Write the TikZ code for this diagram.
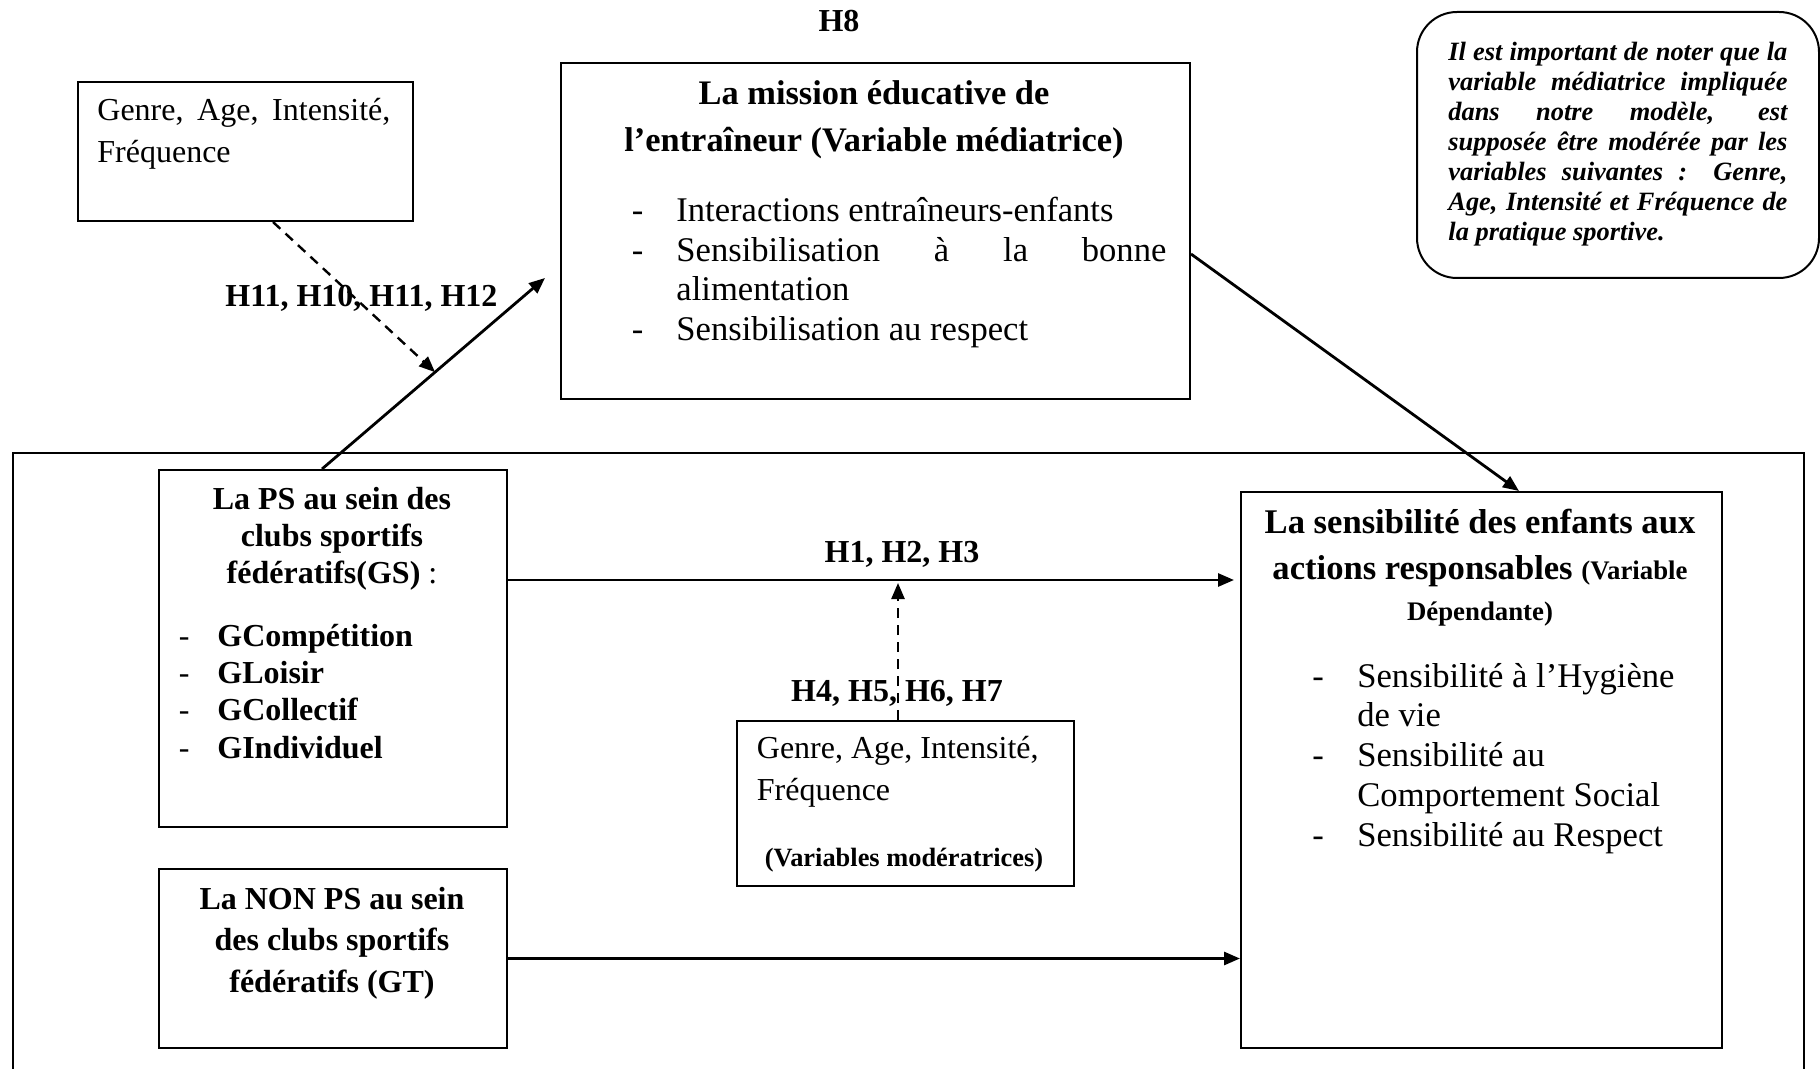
\documentclass[tikz,border=0pt]{standalone}
\usepackage{fontspec}
\setmainfont{Liberation Serif}
\usetikzlibrary{arrows.meta,calc}
\begin{document}
\begin{tikzpicture}[x=0.5pt,y=-0.5pt,
  box/.style={draw,line width=1pt,inner sep=0pt,anchor=north west},
  txt/.style={inner sep=0pt},
  conn/.style={line width=1.4pt,-{Triangle[length=8pt,width=6.5pt]}},
  dconn/.style={conn,line width=1.2pt,dash pattern=on 5pt off 3.5pt},
  hlab/.style={inner sep=0pt,font=\fontsize{16}{19}\selectfont\bfseries}]
\useasboundingbox (0,0) rectangle (1820,1069);

% boxes
\node[box,minimum width=167.5pt,minimum height=69.5pt] (g1) at (77,81) {};
\node[box,minimum width=314.5pt,minimum height=168pt] (mis) at (560,62) {};
\node[box,rounded corners=20pt,minimum width=201pt,minimum height=133pt] (note) at (1416,11) {};
\node[box,minimum width=895.5pt,minimum height=324pt] (outer) at (12,452) {};
\node[box,minimum width=174pt,minimum height=178.5pt] (ps) at (158,469) {};
\node[box,minimum width=174pt,minimum height=89.5pt] (nps) at (158,868) {};
\node[box,minimum width=240.5pt,minimum height=278pt] (sens) at (1240,491) {};
\node[box,minimum width=168.5pt,minimum height=82.5pt] (mod) at (736,720) {};

% hypothesis labels
\node[hlab,anchor=base] (h8) at (839,32) {H8};
\node[hlab,anchor=base west] (h11) at (225,307) {H11, H10, H11, H12};
\node[hlab,anchor=base] (h1) at (902,562) {H1, H2, H3};
\node[hlab,anchor=base] (h4) at (897,701) {H4, H5, H6, H7};

% genre box (top left)
\node[txt,anchor=base west,font=\fontsize{16}{21}\selectfont] (g1t) at (97,121)
  {\parbox[t]{147pt}{\makebox[146.5pt][s]{Genre, Age, Intensité,}\\Fréquence}};

% mission box
\node[txt,anchor=base,font=\fontsize{17.2}{23.5}\selectfont\bfseries] (mist) at (874,105)
  {\parbox[t]{300pt}{\centering La mission éducative de\\l’entraîneur (Variable médiatrice)}};
\node[txt,anchor=base west,font=\fontsize{17.3}{19.7}\selectfont] (misl) at (631.5,222)
  {\parbox[t]{270pt}{\makebox[22.25pt][l]{-}Interactions entraîneurs-enfants\\
   \makebox[22.25pt][l]{-}\makebox[245pt][s]{Sensibilisation à la bonne}\\
   \hspace*{22.25pt}alimentation\\
   \makebox[22.25pt][l]{-}Sensibilisation au respect}};

% note box
\node[txt,anchor=base west,font=\fontsize{13.2}{15}\selectfont\bfseries\itshape] (notet) at (1448,60.5)
  {\parbox[t]{170pt}{\makebox[169.5pt][s]{Il est important de noter que la}\\
   \makebox[169.5pt][s]{variable médiatrice impliquée}\\
   \makebox[169.5pt][s]{dans notre modèle, est}\\
   \makebox[169.5pt][s]{supposée être modérée par les}\\
   \makebox[169.5pt][s]{variables suivantes : Genre,}\\
   \makebox[169.5pt][s]{Age, Intensité et Fréquence de}\\
   la pratique sportive.}};

% PS box
\node[txt,anchor=base,font=\fontsize{16}{18.4}\selectfont\bfseries] (pst) at (332,509.5)
  {\parbox[t]{170pt}{\centering La PS au sein des\\clubs sportifs\\fédératifs(GS) {\mdseries :}}};
\node[txt,anchor=base west,font=\fontsize{16}{18.67}\selectfont\bfseries] (psl) at (178.5,646)
  {\parbox[t]{150pt}{\makebox[19.25pt][l]{\mdseries -}GCompétition\\
   \makebox[19.25pt][l]{\mdseries -}GLoisir\\
   \makebox[19.25pt][l]{\mdseries -}GCollectif\\
   \makebox[19.25pt][l]{\mdseries -}GIndividuel}};

% NON PS box
\node[txt,anchor=base,font=\fontsize{16}{20.8}\selectfont\bfseries] (npst) at (332,909)
  {\parbox[t]{170pt}{\centering La NON PS au sein\\des clubs sportifs\\fédératifs (GT)}};

% sensibilite box
\node[txt,anchor=base,font=\fontsize{17.3}{23.2}\selectfont\bfseries] (senst) at (1480,533.5)
  {\parbox[t]{238pt}{\centering La sensibilité des enfants aux\\
   actions responsables {\fontsize{13.4}{15}\selectfont (Variable}\\[-3pt]
   {\fontsize{13.4}{15}\selectfont Dépendante)}}};
\node[txt,anchor=base west,font=\fontsize{17.3}{19.9}\selectfont] (sensl) at (1312,687)
  {\parbox[t]{200pt}{\makebox[22.5pt][l]{-}Sensibilité à l’Hygiène\\
   \hspace*{22.5pt}de vie\\
   \makebox[22.5pt][l]{-}Sensibilité au\\
   \hspace*{22.5pt}Comportement Social\\
   \makebox[22.5pt][l]{-}Sensibilité au Respect}};

% moderator box
\node[txt,anchor=base west,font=\fontsize{16}{21.3}\selectfont] (modt) at (756.5,758)
  {\parbox[t]{150pt}{Genre, Age, Intensité,\\Fréquence}};
\node[txt,anchor=base,font=\fontsize{13.2}{15}\selectfont\bfseries] (modv) at (904,866)
  {(Variables modératrices)};

% connectors
\coordinate (psTop) at ([xshift=82pt]ps.north west);
\coordinate (misTip) at (545,278);
\draw[conn] (psTop) -- (misTip);
\coordinate (hit) at ($(psTop)!0.507!(misTip)$);
\draw[dconn] ([xshift=98pt]g1.south west) -- (hit);
\draw[conn] ([yshift=-11.5pt]mis.east) -- ([xshift=139.5pt]sens.north west);
\coordinate (h1s) at ([yshift=34.25pt]ps.east);
\draw[conn,shorten >=3pt] (h1s) -- (h1s -| sens.west);
\draw[conn] (nps.east) -- (nps.east -| sens.west);
\draw[dconn,shorten >=1.5pt] ([xshift=-3.75pt]mod.north) -- ([xshift=-3.75pt]mod.north |- h1s);
\end{tikzpicture}
\end{document}
